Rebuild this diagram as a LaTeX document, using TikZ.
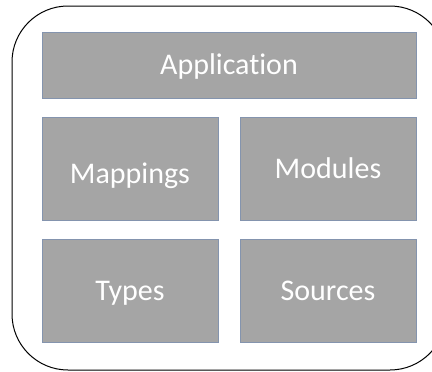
\documentclass[tikz,border=0pt]{standalone}
\usepackage{fontspec}
\setmainfont{Carlito}[Ligatures=NoCommon]
\definecolor{boxgray}{HTML}{A5A5A5}
\definecolor{boxline}{HTML}{8494AE}

\begin{document}
\begin{tikzpicture}[x=1pt, y=-1pt,
		box_style/.style={rectangle, draw=boxline, line width=0.8pt, fill=boxgray, text=white, inner sep=0pt,
			font=\fontsize{30}{36}\selectfont, text height=19.3pt, text depth=0pt},
		half_style/.style={box_style, minimum width=176pt, minimum height=103pt},
		frame_style/.style={draw=black, line width=1pt, rounded corners=56pt}]

		\clip (0,0) rectangle (432,372);
		\draw[frame_style] (12,6) rectangle (446,370);

		\node[box_style, minimum width=374pt, minimum height=66pt] (app) at (229,65) {Application};
		\node[half_style, text height=30.3pt] (map) at (130,168.5) {Mappings};
		\node[half_style] (mod) at (328,168.5) {Modules};
		\node[half_style] (typ) at (130,291) {Types};
		\node[half_style] (src) at (328,291) {Sources};
\end{tikzpicture}
\end{document}
